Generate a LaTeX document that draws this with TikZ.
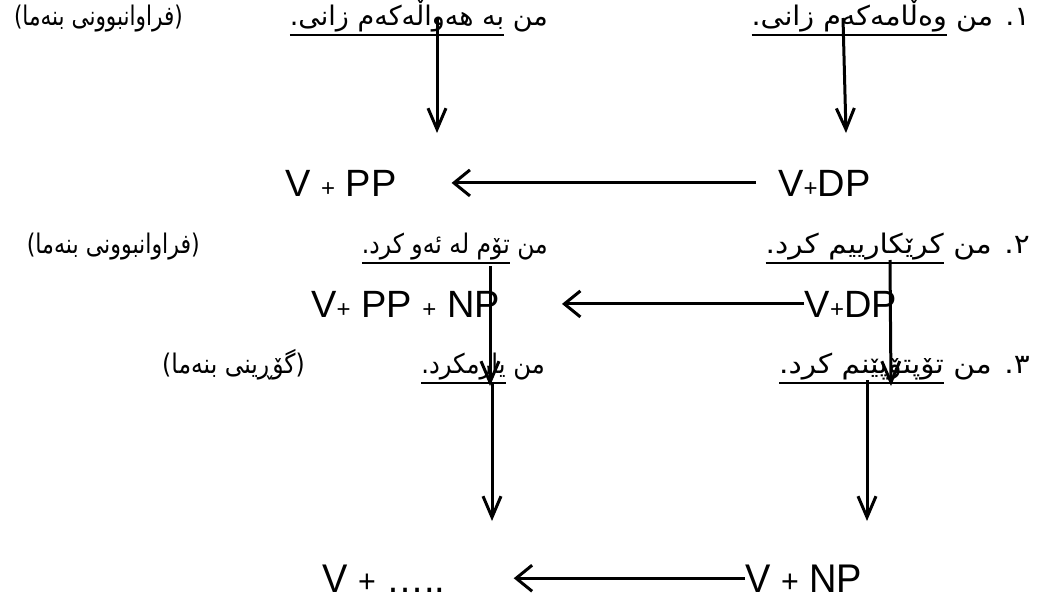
\documentclass[tikz,border=0pt]{standalone}
\usepackage{fontspec}
\usepackage{graphicx}
\setmainfont{Liberation Sans}
\newfontfamily\arabicfont[Script=Arabic]{DejaVu Sans}
\TeXXeTstate=1
\usetikzlibrary{arrows.meta}
\newcommand\artxt[1]{{\arabicfont\fontsize{27}{30}\selectfont\beginR #1\endR}}
\newcommand\ulpart[1]{\vtop{\hbox{\beginR #1\endR}\kern2pt\hrule height 2pt}}
\newcommand\pl{{\fontsize{24}{26}\selectfont+}}
\newcommand\plb{{\fontsize{32}{34}\selectfont+}}
\tikzset{
  artext/.style={inner sep=0pt, anchor=base east},
  lat/.style={inner sep=0pt, anchor=base west, font=\fontsize{38}{40}\selectfont},
  latr/.style={lat, anchor=base east},
  harr/.style={line width=3pt, -{Straight Barb[length=16pt,width=26pt,line width=3pt]}},
  varr/.style={line width=3pt, -{Straight Barb[length=21pt,width=18pt,line width=3pt]}},
}
\begin{document}
\begin{tikzpicture}[x=1pt,y=-1pt]
\useasboundingbox (0,0) rectangle (1039,605);
% row 1
\node[artext] (r1c) at (1030,25) {\scalebox{1.06}[1]{\artxt{١. من \ulpart{وەڵامەکەم زانی.}}}};
\node[artext] (r1b) at (548,25) {\scalebox{1.0}[1]{\artxt{من \ulpart{بە هەواڵەکەم زانی.}}}};
\node[artext] (r1a) at (183,25) {\scalebox{0.8}[1]{\artxt{(فراوانبوونی بنەما)}}};
% row 2
\node[lat] (r2a) at (285,196) {V \pl{} PP};
\node[lat] (r2b) at (778,196) {V\pl DP};
% row 3
\node[artext] (r3c) at (1030,253) {\scalebox{1.1}[1]{\artxt{٢. من \ulpart{کرێکارییم کرد.}}}};
\node[artext] (r3b) at (548,253) {\scalebox{0.87}[1]{\artxt{من \ulpart{تۆم لە ئەو کرد.}}}};
\node[artext] (r3a) at (200,253) {\scalebox{0.82}[1]{\artxt{(فراوانبوونی بنەما)}}};
% row 4
\node[latr] (r4a) at (500,317) {V\pl{} PP \pl{} NP};
\node[latr] (r4b) at (897,317) {V\pl DP};
% row 5
\node[artext] (r5c) at (1030,373) {\scalebox{1.1}[1]{\artxt{٣. من \ulpart{تۆپتۆپێنم کرد.}}}};
\node[artext] (r5b) at (545,373) {\scalebox{0.9}[1]{\artxt{من \ulpart{یارمکرد.}}}};
\node[artext] (r5a) at (305,373) {\scalebox{0.87}[1]{\artxt{(گۆڕینی بنەما)}}};
% row 6
\node[lat] (r6a) at (322,592) {\scalebox{0.95}[1]{\fontsize{40}{42}\selectfont V \plb{} …..}};
\node[lat] (r6b) at (745,592) {\scalebox{0.95}[1]{\fontsize{40}{42}\selectfont V \plb{} NP}};
% vertical arrow end points
\coordinate (v1s) at (437,18);  \coordinate (v1e) at (437,133);
\coordinate (v2s) at (843,18);  \coordinate (v2e) at (846,133);
\coordinate (v3s) at (490,266); \coordinate (v3e) at (490,386);
\coordinate (v4s) at (890,260); \coordinate (v4e) at (891,386);
\coordinate (v5s) at (492,382); \coordinate (v5e) at (492,521);
\coordinate (v6s) at (867,380); \coordinate (v6e) at (867,521);
\draw[varr] (v1s) -- (v1e);
\draw[varr] (v2s) -- (v2e);
\draw[varr] (v3s) -- (v3e);
\draw[varr] (v4s) -- (v4e);
\draw[varr] (v5s) -- (v5e);
\draw[varr] (v6s) -- (v6e);
% horizontal arrows
\draw[harr, shorten <=22pt, shorten >=55pt] (r2b.west) -- (r2b.west -| r2a.east);
\draw[harr, shorten >=62pt] (r4b.west) -- (r4b.west -| r4a.east);
\draw[harr, shorten >=68pt] (r6b.west) -- (r6b.west -| r6a.east);
\end{tikzpicture}
\end{document}
